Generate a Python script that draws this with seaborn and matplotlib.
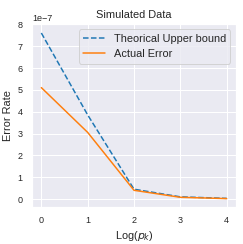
import numpy as np
import pandas as pd
import seaborn as sns
import matplotlib
matplotlib.use("Agg")
import matplotlib.pyplot as plt

# ── data ──
log_pk = [0, 1, 2, 3, 4]
upper_bound = [7.6e-7, 3.85e-7, 0.45e-7, 0.1e-7, 0.03e-7]
actual_err  = [5.1e-7, 3.05e-7, 0.4e-7, 0.08e-7, 0.02e-7]

df = pd.DataFrame({"x": log_pk, "upper": upper_bound, "actual": actual_err})

sns.set_theme(style="darkgrid")
plt.rcParams["font.family"] = ["Liberation Sans", "DejaVu Sans"]
fig, ax = plt.subplots(figsize=(3.375, 3.39), dpi=72)

sns.lineplot(data=df, x="x", y="upper", ax=ax, linestyle="--",
             color="#1f77b4", label="Theorical Upper bound")
sns.lineplot(data=df, x="x", y="actual", ax=ax,
             color="#ff7f0e", label="Actual Error")

ax.set_title("Simulated Data", fontsize=11)
ax.set_xlabel(r"Log($p_k$)", fontsize=11)
ax.set_ylabel("Error Rate", fontsize=11)
ax.set_xticks(log_pk)
ax.set_ylim(-0.36e-7, 8.02e-7)
ax.tick_params(labelsize=9)
ax.yaxis.get_offset_text().set_fontsize(9)
ax.legend(fontsize=11, loc="upper right")

fig.subplots_adjust(left=0.132, right=0.971, top=0.902, bottom=0.152)
fig.savefig("out.png", dpi=72)
